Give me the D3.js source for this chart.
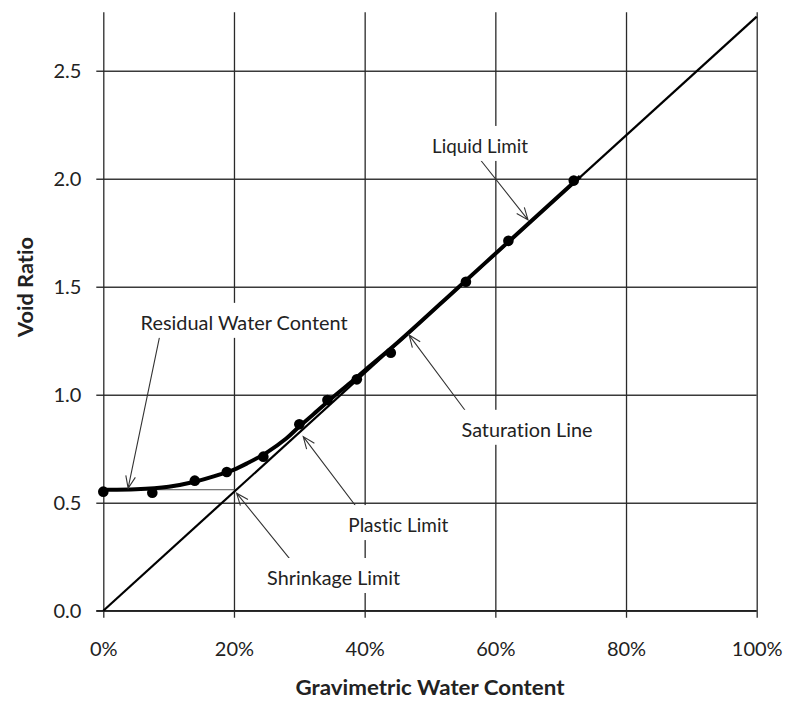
<!DOCTYPE html>
<html>
<head>
<meta charset="utf-8">
<script src="https://cdn.jsdelivr.net/npm/d3@7"></script>
<style>
  body { margin: 0; background: #fff; }
  text { font-family: Lato, "Open Sans", sans-serif; fill: #222; font-variant-ligatures: none; }
</style>
</head>
<body>
<svg id="chart" width="785" height="701"></svg>
<script>
// Measured points: gravimetric water content (fraction) and void ratio
const waterContent = [0, 0.075, 0.14, 0.189, 0.245, 0.30, 0.343, 0.388, 0.44, 0.555, 0.62, 0.72];
const voidRatio    = [0.551, 0.546, 0.602, 0.642, 0.713, 0.863, 0.975, 1.071, 1.194, 1.523, 1.712, 1.991];

// Fitted shrinkage curve
const curveW = [0, 0.05, 0.10, 0.14, 0.18, 0.20, 0.22, 0.25, 0.28, 0.30, 0.32, 0.35, 0.38, 0.40, 0.45, 0.55, 0.65, 0.73];
const curveE = [0.56, 0.562, 0.574, 0.597, 0.632, 0.653, 0.682, 0.732, 0.797, 0.853, 0.905, 0.985, 1.06, 1.112, 1.24, 1.515, 1.79, 2.01];

// Saturation line (Gs = 2.75) and shrinkage-limit level
const saturationW = [0, 1];
const saturationE = [0, 2.75];
const shrinkageW = [0, 0.204];
const shrinkageE = [0.56, 0.56];

// Axis ticks
const xTicks = [0, 0.2, 0.4, 0.6, 0.8, 1.0];
const xTickLabels = ["0%", "20%", "40%", "60%", "80%", "100%"];
const yTicks = [0, 0.5, 1.0, 1.5, 2.0, 2.5];
const yTickLabels = ["0.0", "0.5", "1.0", "1.5", "2.0", "2.5"];

// Annotations: text, arrow tail, arrow tip, label anchor (data units)
const annoText = ["Residual Water Content", "Shrinkage Limit", "Plastic Limit", "Saturation Line", "Liquid Limit"];
const annoTail = [[0.086, 1.266], [0.286, 0.238], [0.391, 0.466], [0.561, 0.898], [0.574, 2.099]];
const annoTip  = [[0.038, 0.567], [0.204, 0.544], [0.306, 0.806], [0.468, 1.276], [0.650, 1.809]];
const annoLabel = [[0.2155, 1.300], [0.3525, 0.119], [0.4515, 0.364], [0.6485, 0.805], [0.5765, 2.119]];
const annoWidth = [207, 133, 100, 131, 96];

const svg = d3.select("#chart");
const margin = { left: 103.3, top: 12.3, right: 785 - 756.7, bottom: 701 - 610.7 };
const W = 785 - margin.left - margin.right;
const H = 701 - margin.top - margin.bottom;
const g = svg.append("g").attr("transform", `translate(${margin.left},${margin.top})`);

const x = d3.scaleLinear().domain([0, 1]).range([0, W]);
const y = d3.scaleLinear().domain([0, 2.77]).range([H, 0]);

// Grid + axes
const yAxis = d3.axisLeft(y).tickValues(yTicks).tickSize(-W).tickPadding(22)
  .tickFormat((d, i) => yTickLabels[i]);
const gy = g.append("g").call(yAxis);
gy.select(".domain").remove();
gy.selectAll(".tick line").attr("x1", -7).attr("stroke", "#3a3a3a").attr("stroke-width", 1.5);
gy.selectAll(".tick text").style("font-size", "20px").style("font-family", "Lato, sans-serif").attr("fill", "#222").attr("dy", "0.36em");

const xAxis = d3.axisBottom(x).tickValues(xTicks).tickSize(-H).tickPadding(41)
  .tickFormat((d, i) => xTickLabels[i]);
const gx = g.append("g").attr("transform", `translate(0,${H})`).call(xAxis);
gx.select(".domain").remove();
gx.selectAll(".tick line").attr("y1", 7).attr("stroke", "#2a2a2a").attr("stroke-width", 1.3);
gx.selectAll(".tick text").style("font-size", "20px").style("font-family", "Lato, sans-serif").attr("fill", "#222").attr("dy", "0.2em");
// baseline x-axis line over the vertical grid
g.append("line").attr("x1", -7).attr("x2", W).attr("y1", y(0)).attr("y2", y(0))
  .attr("stroke", "#222").attr("stroke-width", 1.5);

const line = d3.line().x(d => x(d[0])).y(d => y(d[1]));

// Shrinkage-limit level
g.append("path").datum(d3.zip(shrinkageW, shrinkageE)).attr("d", line)
  .attr("fill", "none").attr("stroke", "#555").attr("stroke-width", 1);

// Saturation line
g.append("path").datum(d3.zip(saturationW, saturationE)).attr("d", line)
  .attr("fill", "none").attr("stroke", "#000").attr("stroke-width", 2.2);

// Fitted curve
g.append("path").datum(d3.zip(curveW, curveE))
  .attr("d", d3.line().x(d => x(d[0])).y(d => y(d[1])).curve(d3.curveCatmullRom.alpha(0.5)))
  .attr("fill", "none").attr("stroke", "#000").attr("stroke-width", 4);

// Measured points
g.selectAll("circle.pt").data(d3.zip(waterContent, voidRatio)).join("circle")
  .attr("class", "pt")
  .attr("cx", d => x(d[0])).attr("cy", d => y(d[1])).attr("r", 5.3)
  .attr("fill", "#000");

// Annotation arrows
const arrowLen = 13, arrowAng = 22 * Math.PI / 180;
annoText.forEach((t, i) => {
  const x0 = x(annoTail[i][0]), y0 = y(annoTail[i][1]);
  const x1 = x(annoTip[i][0]), y1 = y(annoTip[i][1]);
  const a = Math.atan2(y0 - y1, x0 - x1);
  const p1 = [x1 + arrowLen * Math.cos(a + arrowAng), y1 + arrowLen * Math.sin(a + arrowAng)];
  const p2 = [x1 + arrowLen * Math.cos(a - arrowAng), y1 + arrowLen * Math.sin(a - arrowAng)];
  g.append("path")
    .attr("d", `M${x0},${y0}L${x1},${y1}M${p1[0]},${p1[1]}L${x1},${y1}L${p2[0]},${p2[1]}`)
    .attr("fill", "none").attr("stroke", "#333").attr("stroke-width", 1.1);
});

// Annotation labels on white boxes
annoText.forEach((t, i) => {
  const cx = x(annoLabel[i][0]), by = y(annoLabel[i][1]);
  const w = annoWidth[i];
  g.append("rect").attr("x", cx - w / 2 - 4).attr("y", by - 27).attr("width", w + 8).attr("height", 35)
    .attr("fill", "#fff");
  g.append("text").attr("x", cx).attr("y", by).attr("text-anchor", "middle")
    .style("font-size", "19.5px").attr("textLength", w).attr("lengthAdjust", "spacingAndGlyphs")
    .text(t);
});

// Axis titles
svg.append("text").attr("x", margin.left + W / 2).attr("y", 695).attr("text-anchor", "middle")
  .style("font-size", "21.5px").style("font-weight", "bold")
  .attr("textLength", 269).attr("lengthAdjust", "spacingAndGlyphs")
  .text("Gravimetric Water Content");
svg.append("text").attr("transform", "translate(33,287) rotate(-90)").attr("text-anchor", "middle")
  .style("font-size", "21.5px").style("font-weight", "bold")
  .attr("textLength", 100).attr("lengthAdjust", "spacingAndGlyphs")
  .text("Void Ratio");
</script>
</body>
</html>
